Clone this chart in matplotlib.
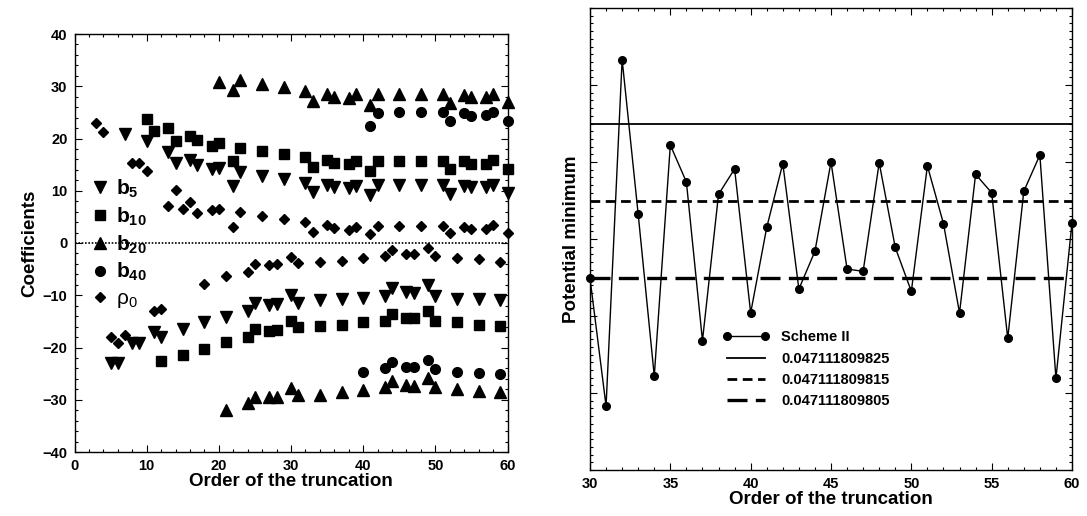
import numpy as np
import matplotlib
matplotlib.use('Agg')
import matplotlib.pyplot as plt
from matplotlib.ticker import MultipleLocator, FixedLocator, NullFormatter

plt.rcParams['font.family'] = ['Liberation Sans', 'DejaVu Sans']
plt.rcParams['font.weight'] = 'bold'
plt.rcParams['mathtext.fontset'] = 'custom'
plt.rcParams['mathtext.rm'] = 'Liberation Sans:normal'
plt.rcParams['mathtext.bf'] = 'Liberation Sans:bold'
plt.rcParams['mathtext.it'] = 'Liberation Sans:italic'

nan = np.nan

# ---------------- left panel data ----------------
order = list(range(3, 61))
#        3    4    5      6      7     8      9      10    11     12
b5 = [nan, nan, -23.0, -23.0, 20.9, -19.2, -19.2, 19.5, -17.1, -18.0,
      # 13   14    15     16    17    18     19    20    21     22
      17.5, 15.4, -16.5, 15.9, 14.9, -15.2, 14.1, 14.4, -14.2, 10.9,
      # 23   24     25     26    27     28     29    30     31     32
      13.5, -13.0, -11.5, 12.9, -11.9, -11.7, 12.2, -10.0, -11.4, 11.5,
      # 33  34     35    36    37     38    39    40     41   42
      9.8, -11.0, 11.1, 10.7, -10.7, 10.5, 11.0, -10.5, 9.2, 11.1,
      # 43   44    45    46    47    48    49    50     51    52
      -10.1, -8.6, 11.1, -9.3, -9.5, 11.1, -8.0, -10.1, 11.1, 9.4,
      # 53   54    55    56     57    58    59     60
      -10.7, 11.0, 10.7, -10.7, 10.7, 11.1, -10.9, 9.5]
b10 = [nan, nan, nan, nan, nan, nan, nan, 23.7, 21.4, -22.6,
       22.1, 19.6, -21.4, 20.5, 19.7, -20.2, 18.6, 19.1, -19.0, 15.7,
       18.2, -17.9, -16.5, 17.7, -16.8, -16.7, 17.0, -14.9, -16.1, 16.4,
       14.5, -15.9, 15.9, 15.3, -15.6, 15.1, 15.7, -15.1, 13.8, 15.7,
       -14.9, -13.5, 15.7, -14.4, -14.4, 15.7, -13.1, -14.9, 15.7, 14.1,
       -15.1, 15.6, 15.1, -15.6, 15.2, 15.9, -15.9, 14.1]
b20 = [nan, nan, nan, nan, nan, nan, nan, nan, nan, nan,
       nan, nan, nan, nan, nan, nan, nan, 30.9, -32.0, 29.3,
       31.2, -30.7, -29.4, 30.4, -29.5, -29.4, 29.8, -27.8, -29.0, 29.1,
       27.2, -29.0, 28.6, 28.0, -28.5, 27.7, 28.5, -28.1, 26.4, 28.5,
       -27.5, -26.4, 28.5, -27.2, -27.3, 28.5, -25.9, -27.6, 28.5, 26.7,
       -27.9, 28.3, 27.9, -28.3, 28.0, 28.5, -28.6, 26.9]
b40 = [nan, nan, nan, nan, nan, nan, nan, nan, nan, nan,
       nan, nan, nan, nan, nan, nan, nan, nan, nan, nan,
       nan, nan, nan, nan, nan, nan, nan, nan, nan, nan,
       nan, nan, nan, nan, nan, nan, nan, -24.6, 22.3, 24.8,
       -24.0, -22.8, 25.0, -23.7, -23.7, 25.0, -22.4, -24.1, 25.0, 23.4,
       -24.6, 24.8, 24.4, -24.8, 24.5, 25.1, -25.1, 23.4]
rho0 = [22.9, 21.3, -18.0, -19.2, -17.7, 15.4, 15.4, 13.8, -13.0, -12.6,
        7.1, 10.1, 6.6, 7.8, 5.8, -7.8, 6.3, 6.6, -6.4, 3.1,
        6.0, -5.5, -4.1, 5.2, -4.2, -4.1, 4.6, -2.6, -3.9, 4.1,
        2.2, -3.7, 3.4, 2.8, -3.4, 2.5, 3.1, -2.9, 1.7, 3.3,
        -2.4, -1.3, 3.3, -2.1, -2.1, 3.3, -1.0, -2.5, 3.3, 1.9,
        -2.9, 3.1, 2.7, -3.1, 2.7, 3.4, -3.6, 2.0]

series_labels = [r'$\mathbf{b_{5}}$', r'$\mathbf{b_{10}}$', r'$\mathbf{b_{20}}$',
                 r'$\mathbf{b_{40}}$', r'$\mathrm{\rho_{0}}$']

# ---------------- right panel data ----------------
order_r = list(range(30, 61))
potential = [0.0471118098049, 0.0471118097883, 0.0471118098333, 0.0471118098132,
             0.0471118097922, 0.0471118098222, 0.0471118098174, 0.0471118097968,
             0.0471118098158, 0.0471118098191, 0.0471118098004, 0.0471118098115,
             0.0471118098198, 0.0471118098035, 0.0471118098084, 0.0471118098200,
             0.0471118098061, 0.0471118098058, 0.0471118098199, 0.0471118098089,
             0.0471118098032, 0.0471118098195, 0.0471118098120, 0.0471118098004,
             0.0471118098184, 0.0471118098160, 0.0471118097971, 0.0471118098162,
             0.0471118098209, 0.0471118097919, 0.0471118098121]
ref_values = [0.047111809825, 0.047111809815, 0.047111809805]
ref_labels = ['0.047111809825', '0.047111809815', '0.047111809805']
scheme_label = 'Scheme II'

# ---------------- figure ----------------
fig = plt.figure(figsize=(10.87, 5.16), dpi=100)
W, H = 1087.0, 516.0
ax1 = fig.add_axes([74.5 / W, (H - 452) / H, 433 / W, 418 / H])
ax2 = fig.add_axes([590 / W, (H - 470) / H, 482 / W, 462 / H])

label_font = dict(fontsize=13.5, fontweight='bold')

# left
ax1.axhline(0, color='black', lw=1.2, ls=(0, (1, 1)), zorder=1)
markers = ['v', 's', '^', 'o', 'D']
sizes = [8, 6.5, 8, 7, 5.5]
for vals, m, s, lab in zip([b5, b10, b20, b40, rho0], markers, sizes, series_labels):
    ax1.plot(order, vals, ls='none', marker=m, ms=s, color='black',
             label=lab, clip_on=False, zorder=3)
ax1.set_xlim(0, 60)
ax1.set_ylim(-40, 40)
ax1.xaxis.set_major_locator(MultipleLocator(10))
ax1.xaxis.set_minor_locator(MultipleLocator(2))
ax1.yaxis.set_major_locator(MultipleLocator(10))
ax1.yaxis.set_minor_locator(MultipleLocator(2))
ax1.set_xlabel('Order of the truncation', labelpad=0, **label_font)
ax1.set_ylabel('Coefficients', labelpad=3, **label_font)
leg1 = ax1.legend(loc='upper left', bbox_to_anchor=(0.035, 0.657), frameon=False,
                  fontsize=15, numpoints=1, handlelength=1.0, handletextpad=0.25,
                  labelspacing=0.27, borderpad=0, borderaxespad=0)

# right
ax2.plot(order_r, potential, color='black', lw=1.0, marker='o', ms=5.5,
         label=scheme_label, clip_on=False, zorder=3)
styles = [dict(ls='-', lw=1.3), dict(ls=(0, (3.5, 2)), lw=2.0), dict(ls=(0, (6, 2.5)), lw=2.4)]
for v, st, lab in zip(ref_values, styles, ref_labels):
    ax2.axhline(v, color='black', label=lab, **st)
ax2.set_xlim(30, 60)
ax2.set_ylim(0.04711180978, 0.04711180984)
ax2.xaxis.set_major_locator(MultipleLocator(5))
ax2.xaxis.set_minor_locator(MultipleLocator(1))
ax2.yaxis.set_major_locator(FixedLocator([0.04711180979 + k * 1e-11 for k in range(5)]))
ax2.yaxis.set_minor_locator(FixedLocator([0.04711180978 + k * 1e-12 for k in range(61)]))
ax2.yaxis.set_major_formatter(NullFormatter())
ax2.yaxis.set_minor_formatter(NullFormatter())
ax2.set_xlabel('Order of the truncation', labelpad=0, **label_font)
ax2.set_ylabel('Potential minimum', labelpad=2, **label_font)
leg2 = ax2.legend(loc='upper left', bbox_to_anchor=(0.275, 0.302), frameon=False,
                  fontsize=10.5, numpoints=2, handlelength=3.2, handletextpad=0.8,
                  labelspacing=0.5, borderpad=0, borderaxespad=0)
for t in leg2.get_texts():
    t.set_fontweight('bold')

for ax in (ax1, ax2):
    ax.tick_params(which='both', direction='in', top=True, right=True, width=0.8)
    ax.tick_params(which='major', length=5, labelsize=10.5, pad=5)
    ax.tick_params(which='minor', length=2.5)
    for lbl in ax.get_xticklabels() + ax.get_yticklabels():
        lbl.set_fontweight('bold')
    for sp in ax.spines.values():
        sp.set_linewidth(1.0)

fig.savefig('out.png', dpi=100)
